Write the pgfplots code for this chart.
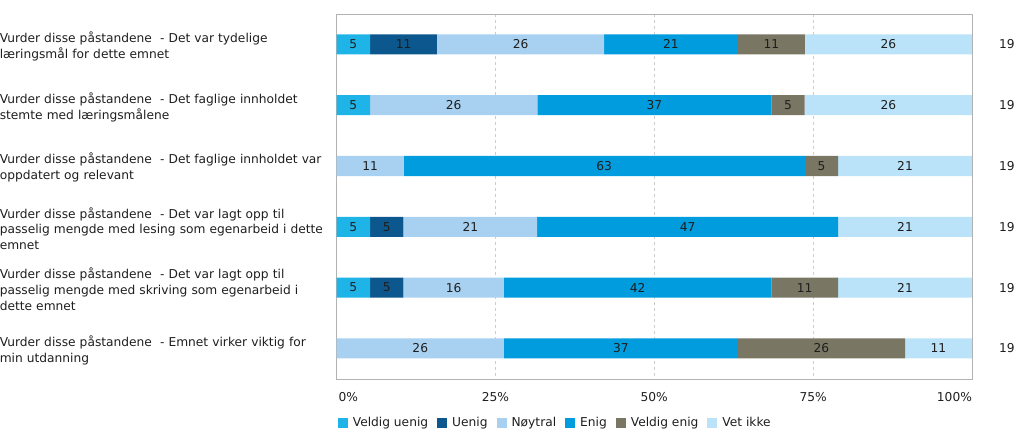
\documentclass[border=0pt]{standalone}
\usepackage{fontspec}
\setmainfont{DejaVu Sans}
\usepackage{pgfplots}
\pgfplotsset{compat=1.18}
\definecolor{cVU}{RGB}{31,180,232}
\definecolor{cU}{RGB}{12,88,142}
\definecolor{cN}{RGB}{168,208,240}
\definecolor{cE}{RGB}{0,156,222}
\definecolor{cVE}{RGB}{122,118,100}
\definecolor{cVI}{RGB}{186,226,248}
\definecolor{txt}{RGB}{30,30,30}
\newcommand{\fs}{\fontsize{12.2bp}{14bp}\selectfont}
\begin{document}
\begin{tikzpicture}
\fs
\useasboundingbox (-336bp,-52bp) rectangle (686bp,378bp);
\pgfplotsset{common/.style={
  at={(0,0)}, anchor=south west,
  width=634bp, height=364bp, scale only axis,
  xmin=0, xmax=100, ymin=-0.5, ymax=5.5, y dir=reverse,
}}
\begin{axis}[common,
  xbar stacked, bar width=20bp,
  axis line style={black!30},
  major tick length=0pt,
  xtick={0,25,50,75,100},
  xticklabels={\makebox[0pt][l]{\hspace{2bp}0\%},25\%,50\%,75\%,\makebox[0pt][r]{100\%}},
  xticklabel style={yshift=-9bp, font=\fs, text=txt},
  xmajorgrids, x grid style={black!20, dashed},
  ytick={0,1,2,3,4,5},
  yticklabels={
    {Vurder disse påstandene \ - Det var tydelige\\læringsmål for dette emnet},
    {Vurder disse påstandene \ - Det faglige innholdet\\stemte med læringsmålene},
    {Vurder disse påstandene \ - Det faglige innholdet var\\oppdatert og relevant},
    {Vurder disse påstandene \ - Det var lagt opp til\\passelig mengde med lesing som egenarbeid i dette\\emnet},
    {Vurder disse påstandene \ - Det var lagt opp til\\passelig mengde med skriving som egenarbeid i\\dette emnet},
    {Vurder disse påstandene \ - Emnet virker viktig for\\min utdanning}},
  yticklabel style={text width=334bp, align=left, inner sep=0pt, anchor=east, xshift=-2bp, yshift=-1.8bp,
    font=\fontsize{12.2bp}{15.8bp}\selectfont, text=txt},
  legend style={at={(0,0)}, anchor=north west, yshift=-34bp, xshift=-2bp, draw=none, fill=none,
    legend columns=-1, font=\fs, text=txt,
    /tikz/every odd column/.append style={column sep=3bp},
    /tikz/every even column/.append style={column sep=7bp}},
  legend image code/.code={\fill[#1] (0bp,-5bp) rectangle (10bp,5bp);},
  clip=false,
]
\addplot[fill=cVU, draw=none] coordinates {(5.26,0) (5.26,1) (0,2) (5.26,3) (5.26,4) (0,5)};
\addplot[fill=cU, draw=none] coordinates {(10.53,0) (0,1) (0,2) (5.26,3) (5.26,4) (0,5)};
\addplot[fill=cN, draw=none] coordinates {(26.32,0) (26.32,1) (10.53,2) (21.05,3) (15.79,4) (26.32,5)};
\addplot[fill=cE, draw=none] coordinates {(21.05,0) (36.84,1) (63.16,2) (47.37,3) (42.11,4) (36.84,5)};
\addplot[fill=cVE, draw=none] coordinates {(10.53,0) (5.26,1) (5.26,2) (0,3) (10.53,4) (26.32,5)};
\addplot[fill=cVI, draw=none] coordinates {(26.32,0) (26.32,1) (21.05,2) (21.05,3) (21.05,4) (10.52,5)};
\legend{Veldig uenig, Uenig, Nøytral, Enig, Veldig enig, Vet ikke}
\pgfplotsinvokeforeach{0,...,5}{
  \node[text=txt, anchor=center, font=\fs] at (axis cs:100,#1) [xshift=35bp] {19};
}
\end{axis}
\begin{axis}[common, hide axis, clip=false]
\addplot[only marks, mark=none, nodes near coords, point meta=explicit symbolic,
  nodes near coords align=center,
  every node near coord/.append style={anchor=center, text=txt, font=\fs}]
coordinates {
(2.63,0)[5] (10.53,0)[11] (28.95,0)[26] (52.63,0)[21] (68.42,0)[11] (86.84,0)[26]
(2.63,1)[5] (18.42,1)[26] (50.00,1)[37] (71.05,1)[5] (86.84,1)[26]
(5.26,2)[11] (42.11,2)[63] (76.32,2)[5] (89.47,2)[21]
(2.63,3)[5] (7.89,3)[5] (21.05,3)[21] (55.26,3)[47] (89.47,3)[21]
(2.63,4)[5] (7.89,4)[5] (18.42,4)[16] (47.37,4)[42] (73.68,4)[11] (89.47,4)[21]
(13.16,5)[26] (44.74,5)[37] (76.32,5)[26] (94.74,5)[11]
};
\end{axis}
\end{tikzpicture}
\end{document}
